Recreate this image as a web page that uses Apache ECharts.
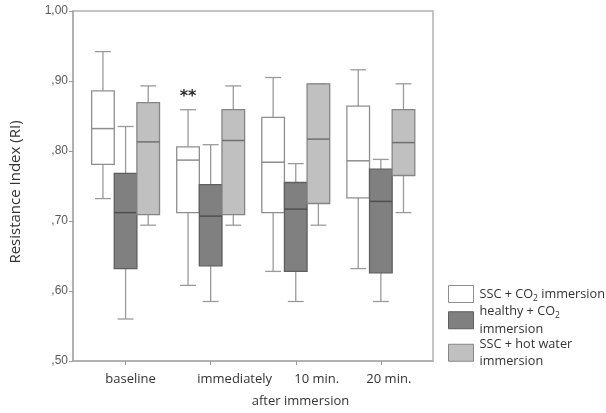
<!DOCTYPE html>
<html>
<head>
<meta charset="utf-8">
<script src="https://cdn.jsdelivr.net/npm/echarts@6/dist/echarts.min.js"></script>
<style>
html,body{margin:0;padding:0;background:#fff;}
#chart{width:606px;height:413px;}
</style>
</head>
<body>
<div id="chart"></div>
<script>
// Categories (x axis)
const categories = ['baseline', 'immediately', '10 min.', '20 min.'];
const xAxisSubtitle = 'after immersion';
const yTickValues = [0.5, 0.6, 0.7, 0.8, 0.9, 1.0];
const seriesNames = ['SSC + CO2 immersion', 'healthy + CO2 immersion', 'SSC + hot water immersion'];

// Box values per category: [min, q1, median, q3, max]
const sscCO2 = [
  [0.732, 0.781, 0.832, 0.886, 0.942],
  [0.608, 0.712, 0.787, 0.806, 0.859],
  [0.628, 0.712, 0.784, 0.848, 0.905],
  [0.632, 0.733, 0.786, 0.864, 0.916]
];
const healthyCO2 = [
  [0.560, 0.632, 0.712, 0.768, 0.835],
  [0.585, 0.636, 0.707, 0.752, 0.809],
  [0.585, 0.628, 0.717, 0.755, 0.782],
  [0.585, 0.626, 0.728, 0.774, 0.788]
];
const sscHotWater = [
  [0.694, 0.709, 0.813, 0.869, 0.893],
  [0.694, 0.709, 0.815, 0.859, 0.893],
  [0.694, 0.725, 0.817, 0.896, 0.896],
  [0.712, 0.765, 0.812, 0.859, 0.896]
];
// significance markers above SSC + CO2 boxes
const significance = ['', '**', '', ''];

const styles = [
  { fill: '#ffffff', border: '#8e8e8e', median: '#8e8e8e', whisker: '#9a9a9a' },
  { fill: '#808080', border: '#5e5e5e', median: '#4f4f4f', whisker: '#9a9a9a' },
  { fill: '#c0c0c0', border: '#858585', median: '#707070', whisker: '#9a9a9a' }
];

const legendLabels = {
  'SSC + CO2 immersion': '{t|SSC + CO}{s|2}{t| immersion}',
  'healthy + CO2 immersion': '{t|healthy + CO}{s|2}\n{t|immersion}',
  'SSC + hot water immersion': '{t|SSC + hot water}\n{t|immersion}'
};

const labelPad = [10, 48, 42, 16];

function makeRender(si) {
  return function (params, api) {
    const xi = api.value(0);
    const band = api.size([1, 0])[0];
    const w = band * 0.266;
    const cap = w * 0.7;
    const cx = api.coord([xi, 0.75])[0] + (si - 1) * w;
    const yMin = api.coord([xi, api.value(1)])[1];
    const yQ1 = api.coord([xi, api.value(2)])[1];
    const yMed = api.coord([xi, api.value(3)])[1];
    const yQ3 = api.coord([xi, api.value(4)])[1];
    const yMax = api.coord([xi, api.value(5)])[1];
    const st = styles[si];
    const lineStyle = { stroke: st.whisker, lineWidth: 1.3 };
    const children = [
      { type: 'line', shape: { x1: cx, y1: yMax, x2: cx, y2: yQ3 }, style: lineStyle },
      { type: 'line', shape: { x1: cx, y1: yQ1, x2: cx, y2: yMin }, style: lineStyle },
      { type: 'line', shape: { x1: cx - cap / 2, y1: yMax, x2: cx + cap / 2, y2: yMax }, style: lineStyle },
      { type: 'line', shape: { x1: cx - cap / 2, y1: yMin, x2: cx + cap / 2, y2: yMin }, style: lineStyle },
      { type: 'rect', shape: { x: cx - w / 2, y: yQ3, width: w, height: yQ1 - yQ3 },
        style: { fill: st.fill, stroke: st.border, lineWidth: 1.3 } },
      { type: 'line', shape: { x1: cx - w / 2, y1: yMed, x2: cx + w / 2, y2: yMed },
        style: { stroke: st.median, lineWidth: 1.5 } }
    ];
    if (si === 0 && significance[params.dataIndex]) {
      children.push({
        type: 'text',
        style: {
          text: significance[params.dataIndex], x: cx, y: yMax - 13,
          align: 'center', verticalAlign: 'middle',
          font: 'bold 16px "DejaVu Sans"', fill: '#2a2a2a'
        }
      });
    }
    return { type: 'group', children: children };
  };
}

const groups = [sscCO2, healthyCO2, sscHotWater];
const series = groups.map(function (arr, si) {
  return {
    name: seriesNames[si],
    type: 'custom',
    renderItem: makeRender(si),
    encode: { x: 0, y: [1, 2, 3, 4, 5] },
    itemStyle: { color: styles[si].fill, borderColor: styles[si].border, borderWidth: 1 },
    data: arr.map(function (v, i) { return [i].concat(v); }),
    z: 2 + si
  };
});

const chart = echarts.init(document.getElementById('chart'), null, { renderer: 'canvas' });
chart.setOption({
  animation: false,
  backgroundColor: '#ffffff',
  grid: { left: 67, right: 173, top: 11, bottom: 46, show: true, borderColor: '#b3b3b3', borderWidth: 1.5, backgroundColor: 'transparent' },
  legend: {
    orient: 'vertical',
    left: 443,
    top: 280,
    itemWidth: 25,
    itemHeight: 17,
    itemGap: 2,
    icon: 'rect',
    selectedMode: false,
    data: seriesNames.map(function (n, i) {
      return { name: n, itemStyle: { color: styles[i].fill, borderColor: styles[i].border, borderWidth: 1 } };
    }),
    formatter: function (name) { return legendLabels[name]; },
    textStyle: {
      color: '#333',
      padding: [0, 0, 0, 1],
      rich: {
        t: { fontFamily: 'Open Sans', fontSize: 12.7, color: '#333', lineHeight: 17.5 },
        s: { fontFamily: 'Open Sans', fontSize: 8.5, color: '#333', lineHeight: 11, verticalAlign: 'bottom' }
      }
    }
  },
  xAxis: {
    type: 'value',
    min: -0.618,
    max: 3.613,
    splitLine: { show: false },
    axisLine: { show: true, onZero: false, lineStyle: { color: '#aaaaaa', width: 1.5 } },
    axisTick: { show: true, customValues: [0, 1, 2, 3], length: 4, lineStyle: { color: '#999' } },
    axisLabel: {
      customValues: [0, 1, 2, 3],
      margin: 12,
      formatter: function (v) {
        const i = Math.round(v);
        return '{c' + i + '|' + categories[i] + '}';
      },
      rich: {
        c0: { fontFamily: 'Open Sans', fontSize: 13, color: '#333', padding: [0, 0, 0, labelPad[0]] },
        c1: { fontFamily: 'Open Sans', fontSize: 13, color: '#333', padding: [0, 0, 0, labelPad[1]] },
        c2: { fontFamily: 'Open Sans', fontSize: 13, color: '#333', padding: [0, 0, 0, labelPad[2]] },
        c3: { fontFamily: 'Open Sans', fontSize: 13, color: '#333', padding: [0, 0, 0, labelPad[3]] }
      }
    },
    name: xAxisSubtitle,
    nameLocation: 'middle',
    nameGap: 34,
    nameTextStyle: { fontFamily: 'Open Sans', fontSize: 13, color: '#333', padding: [0, 0, 0, 95] }
  },
  yAxis: {
    type: 'value',
    min: 0.5,
    max: 1.0,
    interval: 0.1,
    splitLine: { show: false },
    axisLine: { show: true, onZero: false, lineStyle: { color: '#aaaaaa', width: 1.5 } },
    axisTick: { show: true, length: 4, lineStyle: { color: '#999' } },
    axisLabel: {
      margin: 5,
      fontFamily: 'Liberation Sans',
      fontSize: 12,
      color: '#5a5a5a',
      formatter: function (v) {
        const s = v.toFixed(2).replace('.', ',');
        return s.charAt(0) === '0' ? s.slice(1) : s;
      }
    },
    name: 'Resistance Index (RI)',
    nameLocation: 'middle',
    nameGap: 50,
    nameTextStyle: { fontFamily: 'Open Sans', fontSize: 15, color: '#333', padding: [0, 12, 0, 0] }
  },
  series: series
});
</script>
</body>
</html>
